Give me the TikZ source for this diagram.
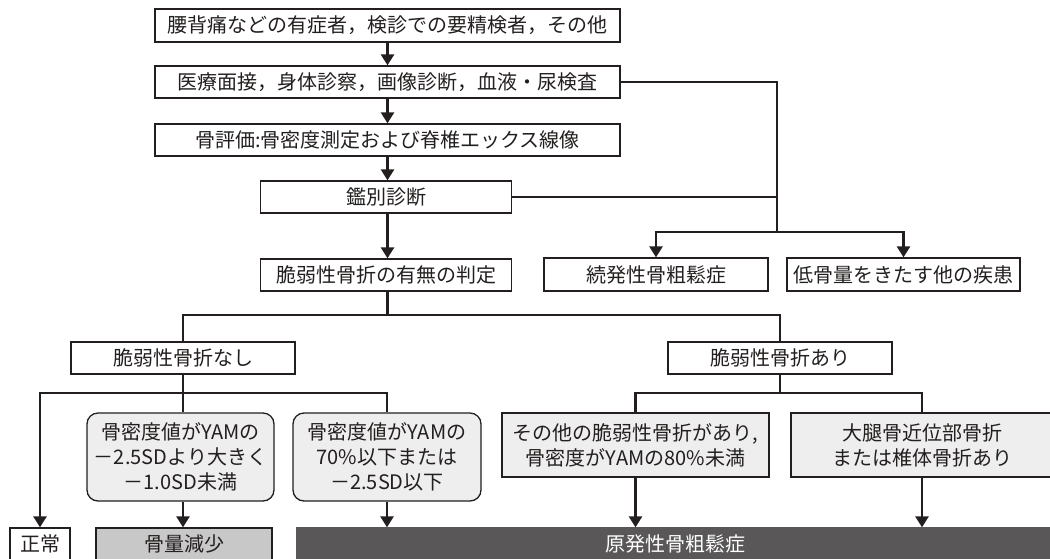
\documentclass[tikz,border=0pt]{standalone}
\usepackage{fontspec}
\setmainfont{Noto Sans CJK JP}
\usetikzlibrary{arrows.meta}
\definecolor{ink}{HTML}{231F1E}
\definecolor{lightfill}{HTML}{EEEEEE}
\definecolor{midfill}{HTML}{C8C8C8}
\definecolor{darkfill}{HTML}{595757}
\begin{document}
\begin{tikzpicture}[x=1pt,y=-1pt,
  box/.style={draw=ink, line width=1.3pt, inner sep=0pt, text=ink,
    font=\fontsize{20}{25}\selectfont, align=center},
  rbox/.style={box, fill=lightfill, rounded corners=11pt},
  gbox/.style={box, fill=lightfill},
  conn/.style={draw=ink, line width=2.6pt},
  arr/.style={conn, -{Triangle[width=13pt,length=11pt]}}]
\useasboundingbox (0,0) rectangle (1050,558);

\node[box, minimum width=465pt, minimum height=33pt] (b1) at (387.5,25.5) {腰背痛などの有症者，検診での要精検者，その他};
\node[box, minimum width=465pt, minimum height=32pt] (b2) at (387.5,82) {医療面接，身体診察，画像診断，血液・尿検査};
\node[box, minimum width=465pt, minimum height=32pt] (b3) at (387.5,140) {骨評価:骨密度測定および脊椎エックス線像};
\node[box, minimum width=251pt, minimum height=32pt] (b4) at (386,197) {鑑別診断};
\node[box, minimum width=251pt, minimum height=32pt] (b5) at (386,275) {脆弱性骨折の有無の判定};
\node[box, minimum width=224pt, minimum height=33pt] (c1) at (656,274.5) {続発性骨粗鬆症};
\node[box, minimum width=233pt, minimum height=33pt] (c2) at (903.5,274.5) {低骨量をきたす他の疾患};

\node[box, minimum width=224pt, minimum height=32pt] (n) at (183,358) {脆弱性骨折なし};
\node[box, minimum width=224pt, minimum height=32pt] (a) at (780,358) {脆弱性骨折あり};

\node[rbox, minimum width=187pt, minimum height=88pt] (rA) at (180.5,457) {骨密度値がYAMの\\－2.5SDより大きく\\－1.0SD未満};
\node[rbox, minimum width=188pt, minimum height=88pt] (rB) at (387,457) {骨密度値がYAMの\\70\%以下または\\－2.5SD以下};
\node[gbox, minimum width=267pt, minimum height=64pt] (C) at (635.5,445) {その他の脆弱性骨折があり,\\骨密度がYAMの80\%未満};
\node[gbox, minimum width=262pt, minimum height=64pt] (D) at (922,445) {大腿骨近位部骨折\\または椎体骨折あり};

\node[box, minimum width=60pt, minimum height=32pt] (g1) at (40,544) {正常};
\node[box, fill=midfill, minimum width=176pt, minimum height=32pt] (g2) at (184,544) {骨量減少};
\node[box, fill=darkfill, draw=darkfill, text=white, minimum width=757pt, minimum height=32pt] (g3) at (675.5,544) {原発性骨粗鬆症};

% top chain
\draw[arr] (b1.south) -- (b2.north);
\draw[arr] (b2.south) -- (b3.north);
\draw[arr] (b3.south) -- (b3.south |- b4.north);
\draw[arr] (b3.south |- b4.south) -- (b3.south |- b5.north);

% differential branch
\coordinate (j1) at (777,232);
\draw[conn] (b2.east) -| (j1);
\draw[conn] (b4.east) -- (b4.east -| j1);
\draw[arr] (j1) -| (c1.north);
\draw[arr] (j1) -| (c2.north);

% fracture judgement
\coordinate (j2) at (387.5,315);
\draw[conn] (b3.south |- b5.south) -- (j2);
\draw[conn] (n.north) -- (n.north |- j2) -- (a.north |- j2) -- (a.north);

% no fracture
\coordinate (j3) at (183,393);
\draw[conn] (n.south) -- (n.south |- rA.north);
\draw[arr] (j3) -| (g1.north);
\draw[conn] (j3) -| (rB.north);
\draw[arr] (n.south |- rA.south) -- (n.south |- g2.north);
\draw[arr] (rB.south) -- (rB.south |- g3.north);

% fracture
\coordinate (j4) at (780,393);
\draw[conn] (a.south) -- (j4);
\draw[conn] (C.north) -- (C.north |- j4) -- (D.north |- j4) -- (D.north);
\draw[arr] (C.south) -- (C.south |- g3.north);
\draw[arr] (D.south) -- (D.south |- g3.north);
\end{tikzpicture}
\end{document}
